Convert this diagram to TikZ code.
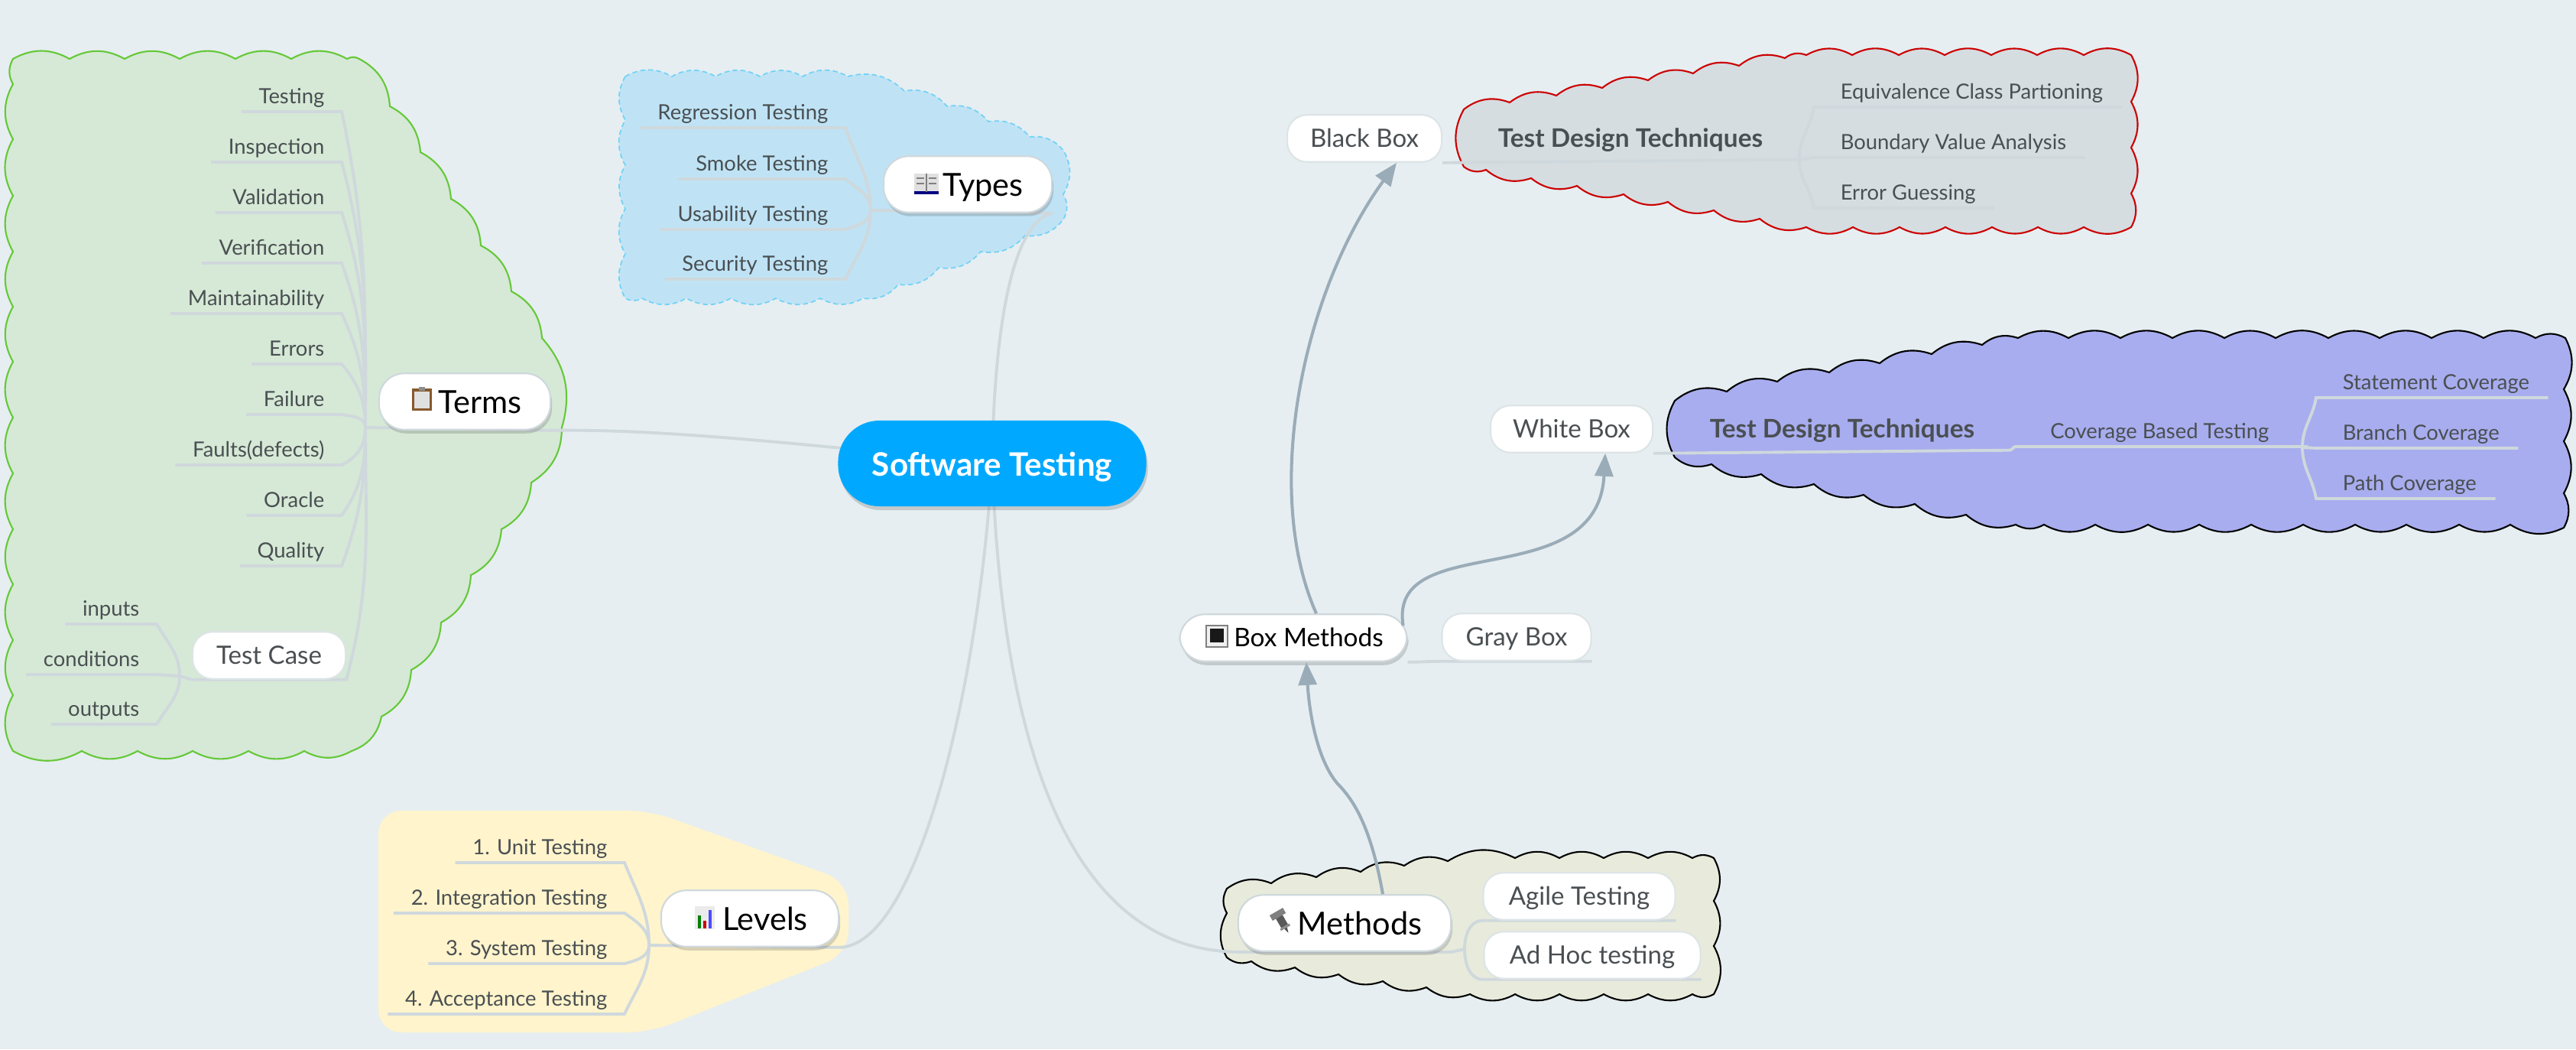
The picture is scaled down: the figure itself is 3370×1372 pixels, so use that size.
\documentclass[tikz,border=0pt]{standalone}
\usepackage{fontspec}
\setmainfont{Lato}
\usetikzlibrary{arrows.meta,backgrounds,calc,shadows}
\definecolor{bgcol}{HTML}{E6EEF1}
\definecolor{rootcol}{HTML}{00A9FF}
\definecolor{wirecol}{HTML}{CFD8DC}
\definecolor{linkcol}{HTML}{9AACB8}
\definecolor{leafcol}{HTML}{4A4F52}
\definecolor{termscol}{HTML}{D5E9D6}
\definecolor{termsedge}{HTML}{66C838}
\definecolor{typescol}{HTML}{BFE3F5}
\definecolor{blackcol}{HTML}{D5DDE1}
\definecolor{whitecol}{HTML}{A8ADEF}
\definecolor{methodscol}{HTML}{E8EBDB}
\definecolor{levelscol}{HTML}{FFF4CC}
\tikzset{
    x=0.01cm, y=-0.01cm,
    bump/.style={bend left=29},
    shade/.style={drop shadow={shadow xshift=0.02cm, shadow yshift=-0.05cm, opacity=.22, fill=black!70}},
    rootnode/.style={fill=rootcol, text=white, rounded corners=0.54cm, minimum width=4.03cm, minimum height=1.12cm,
        text height=0.42cm, text depth=0.1cm, font=\fontsize{12}{14}\bfseries\selectfont, shade},
    mainnode/.style={fill=white, draw=wirecol, line width=0.6pt, rounded corners=0.33cm, minimum height=0.71cm,
        text height=0.4cm, text depth=0.1cm, font=\fontsize{11.8}{14}\selectfont, shade, execute at begin node=\hspace*{0.4cm}},
    boxnode/.style={fill=white, draw=wirecol!70, line width=0.6pt, rounded corners=0.26cm, minimum height=0.56cm,
        text height=0.3cm, text depth=0.08cm, text=leafcol, font=\fontsize{9.4}{12}\selectfont},
    leaf/.style={inner xsep=0.24cm, inner ysep=0pt, text height=0.24cm, text depth=0.1cm, text=leafcol,
        font=\fontsize{7.8}{10}\selectfont},
    lleaf/.style={leaf, inner xsep=0.22cm, anchor=south east},
    rleaf/.style={leaf, anchor=south west, execute at begin node=\hspace*{0.1cm}},
    design/.style={inner sep=0pt, minimum height=0.5cm, text height=0.28cm, text depth=0.1cm, text=leafcol,
        font=\fontsize{9.5}{12}\bfseries\selectfont},
    wire/.style={draw=wirecol, line width=1.1pt},
    link/.style={draw=linkcol, line width=1.15pt, -{Triangle[length=0.3cm,width=0.24cm]}},
    pics/clipicon/.style={code={
        \fill[brown!70!black] (-13,-15) rectangle (13,14);
        \fill[black!12] (-10,-11) rectangle (10,11);
        \fill[black!45] (-4,-17) rectangle (4,-12);}},
    pics/bookicon/.style={code={
        \fill[black!12] (-16,-13) rectangle (16,11);
        \fill[blue!50!black] (-16,10) rectangle (16,14);
        \draw[black!50, line width=0.4pt] (0,-13) -- (0,11) (-13,-7) -- (-3,-7) (3,-7) -- (13,-7) (-13,0) -- (-3,0) (3,0) -- (13,0);}},
    pics/charticon/.style={code={
        \fill[black!8] (-13,-15) rectangle (13,15);
        \fill[green!50!black] (-9,-3) rectangle (-5,14);
        \fill[red!80!black] (-2,4) rectangle (2,14);
        \fill[blue!70] (5,-10) rectangle (9,14);}},
    pics/boxicon/.style={code={
        \draw[black!50, fill=black!6, line width=0.5pt] (-14,-14) rectangle (14,14);
        \fill[black!90] (-9,-10) rectangle (9,8);}},
    pics/screwicon/.style={code={
        \fill[black!50, rotate=30] (-10,-15) rectangle (10,-7);
        \fill[black!65, rotate=30] (-5,-7) rectangle (5,7);
        \fill[black!45, rotate=30] (-7,7) rectangle (7,10);
        \fill[black!70, rotate=30] (-2,10) -- (2,10) -- (0,17) -- cycle;}}
}

\begin{document}
\begin{tikzpicture}
    \useasboundingbox (0,0) rectangle (3370,1372);
    \begin{scope}[on background layer]
        \fill[bgcol] (0,0) rectangle (3370,1372);
        \filldraw[fill=termscol, draw=termsedge, line width=0.6pt] (17,77)
            foreach \x/\y in {91/77,163/77,235/77,308/77,381/77,454/77,470/77,510/139,550/199,590/260,629/321,669/381,709/442,735/559,
            695/631,656/692,616/752,577/814,538/876,499/937,460/982,398/982,325/982,252/982,180/982,107/982,17/982,
            17/909,17/837,17/764,17/692,17/619,17/546,17/473,17/401,17/329,17/256,17/182,17/110,17/77} {to[bump] (\x,\y)} -- cycle;
        \filldraw[fill=typescol, draw=cyan!55, line width=0.5pt, dash pattern=on 1.8pt off 1.2pt] (818,100)
            foreach \x/\y in {879/100,936/100,994/100,1050/100,1109/100,1183/119,1239/139,1293/159,1347/179,1392/198,1391/254,1391/287,
            1341/308,1283/329,1228/350,1175/372,1129/390,1073/390,1015/390,956/390,898/390,840/390,818/390,
            818/332,818/273,818/216,818/157,818/100} {to[bump] (\x,\y)} -- cycle;
        \filldraw[fill=blackcol, draw=red!80!black, line width=0.6pt] (1915,143)
            foreach \x/\y in {1975/134,2036/125,2096/115,2156/105,2215/96,2275/86,2335/76,2363/72,2423/72,2484/72,2544/72,2605/72,2665/72,2726/72,2788/72,
            2788/133,2788/193,2788/253,2788/297,2726/297,2666/297,2606/297,2545/297,2485/297,2424/297,2363/297,
            2302/286,2242/275,2182/264,2124/254,2063/243,2003/233,1944/222,1915/218,1915/143} {to[bump] (\x,\y)} -- cycle;
        \filldraw[fill=whitecol, draw=black, line width=0.6pt] (2191,524)
            foreach \x/\y in {2259/512,2325/499,2393/487,2459/475,2527/463,2593/451,2640/442,2706/442,2774/442,2842/442,2910/442,2977/442,3046/442,3113/442,3181/442,3249/442,3317/442,3356/442,
            3354/509,3354/577,3354/645,3354/690,3284/686,3217/686,3148/686,3081/686,3013/686,2945/686,2877/686,2810/686,2741/686,2674/686,2637/686,
            2572/673,2505/659,2438/647,2373/633,2304/620,2239/607,2191/598,2191/524} {to[bump] (\x,\y)} -- cycle;
        \filldraw[fill=methodscol, draw=black, line width=0.6pt] (1605,1162)
            foreach \x/\y in {1663/1155,1722/1147,1780/1140,1837/1132,1894/1126,1982/1122,2040/1122,2098/1122,2156/1122,2214/1122,2242/1122,
            2242/1178,2242/1237,2242/1300,2214/1300,2156/1300,2098/1300,2040/1300,1982/1300,1923/1300,1866/1291,1809/1283,1751/1274,1694/1265,1637/1257,1605/1252,
            1605/1194,1605/1162} {to[bump] (\x,\y)} -- cycle;
        \fill[levelscol, rounded corners=0.3cm] (495,1060) -- (850,1060) -- (1110,1153) -- (1110,1247) -- (850,1350) -- (495,1350) -- cycle;
    \end{scope}

    \path node[rootnode] (root) at (1298,606) {Software Testing}
        node[mainnode, minimum width=2.24cm] (terms) at (608,525) {Terms}
        node[mainnode, minimum width=2.2cm] (types) at (1266,241) {Types}
        node[mainnode, minimum width=2.32cm] (levels) at (981,1201) {Levels}
        node[mainnode, minimum width=2.78cm] (methods) at (1759,1207) {Methods}
        node[mainnode, minimum width=2.97cm, minimum height=0.58cm, text height=0.3cm, text depth=0.08cm, font=\fontsize{9.5}{12}\selectfont] (boxm) at (1692,834) {Box Methods}
        node[boxnode, minimum width=2cm] (testcase) at (352,857) {Test Case}
        node[boxnode, minimum width=1.95cm] (graybox) at (1984,833) {Gray Box}
        node[boxnode, minimum width=2.02cm] (blackbox) at (1785,181) {Black Box}
        node[boxnode, minimum width=2.12cm] (whitebox) at (2056,561) {White Box}
        node[boxnode, minimum width=2.51cm] (agile) at (2066,1172) {Agile Testing}
        node[boxnode, minimum width=2.83cm] (adhoc) at (2083,1249) {Ad Hoc testing}
        node[design, minimum width=4.4cm] (designb) at (2133,183) {Test Design Techniques}
        node[design, minimum width=4.36cm] (designw) at (2410,563) {Test Design Techniques};

    \path node[lleaf] (testing) at (447,146) {Testing}
        node[lleaf] (inspection) at (447,212) {Inspection}
        node[lleaf] (validation) at (447,278) {Validation}
        node[lleaf] (verification) at (447,344) {Verification}
        node[lleaf] (maintain) at (447,410) {Maintainability}
        node[lleaf] (errors) at (447,476) {Errors}
        node[lleaf] (failure) at (447,542) {Failure}
        node[lleaf] (faults) at (447,608) {Faults(defects)}
        node[lleaf] (oracle) at (447,674) {Oracle}
        node[lleaf] (quality) at (447,740) {Quality}
        node[lleaf] (inputs) at (205,816) {inputs}
        node[lleaf] (conditions) at (205,882) {conditions}
        node[lleaf] (outputs) at (205,947) {outputs}
        node[lleaf] (regression) at (1106,167) {Regression Testing}
        node[lleaf] (smoke) at (1106,234) {Smoke Testing}
        node[lleaf] (usability) at (1106,300) {Usability Testing}
        node[lleaf] (security) at (1106,365) {Security Testing}
        node[lleaf] (unit) at (817,1128) {1. Unit Testing}
        node[lleaf] (integration) at (817,1194) {2. Integration Testing}
        node[lleaf] (system) at (817,1260) {3. System Testing}
        node[lleaf] (acceptance) at (817,1326) {4. Acceptance Testing}
        node[rleaf] (equivalence) at (2373,140) {Equivalence Class Partioning}
        node[rleaf] (boundary) at (2373,206) {Boundary Value Analysis}
        node[rleaf] (guessing) at (2373,272) {Error Guessing}
        node[rleaf] (statement) at (3030,520) {Statement Coverage}
        node[rleaf] (branch) at (3030,586) {Branch Coverage}
        node[rleaf] (pathcov) at (3030,652) {Path Coverage}
        node[leaf, anchor=south west, minimum width=3.75cm] (coverage) at (2637,584) {Coverage Based Testing};

    \coordinate (termsj) at (478,559);
    \coordinate (casej) at (235,884);
    \coordinate (typesj) at (1139,275);
    \coordinate (levelsj) at (849,1236);
    \coordinate (methodsj) at (1916,1241);
    \coordinate (coverj) at (3012,585);

    \begin{scope}[on background layer]
        \draw[wire] (root.center) .. controls (1000,575) and (850,561) .. (terms.south east);
        \draw[wire] (root.center) .. controls (1300,450) and (1320,290) .. (types.south east);
        \draw[wire] (root.center) .. controls (1280,900) and (1200,1237) .. (levels.south east);
        \draw[wire] (root.center) .. controls (1315,1100) and (1460,1243) .. (methods.south west);
        \draw[wire] (termsj) -- (terms.south east);
        \draw[wire] (typesj) -- (types.south east);
        \draw[wire] (levelsj) -- (levels.south east);
        \draw[wire] (methods.south west) -- (methods.south east) -- (methodsj);
        \foreach \leafname/\outa in {testing/-78,inspection/-75,validation/-72,verification/-70,maintain/-65,errors/-50,failure/-10}
            \draw[wire] (\leafname.south west) -- (\leafname.south east) to[out=\outa,in=90] (termsj);
        \foreach \leafname/\outa in {faults/25,oracle/55,quality/70}
            \draw[wire] (\leafname.south west) -- (\leafname.south east) to[out=\outa,in=-90] (termsj);
        \draw[wire] (testcase.south west) -- (testcase.south east) to[out=75,in=-90] (termsj);
        \draw[wire] (casej) -- (testcase.south west);
        \draw[wire] (inputs.south west) -- (inputs.south east) to[out=-60,in=90] (casej);
        \draw[wire] (conditions.south west) -- (conditions.south east) -- (casej);
        \draw[wire] (outputs.south west) -- (outputs.south east) to[out=60,in=-90] (casej);
        \foreach \leafname/\outa in {regression/-72,smoke/-40}
            \draw[wire] (\leafname.south west) -- (\leafname.south east) to[out=\outa,in=90] (typesj);
        \foreach \leafname/\outa in {usability/20,security/65}
            \draw[wire] (\leafname.south west) -- (\leafname.south east) to[out=\outa,in=-90] (typesj);
        \foreach \leafname/\outa in {unit/-68,integration/-35}
            \draw[wire] (\leafname.south west) -- (\leafname.south east) to[out=\outa,in=90] (levelsj);
        \foreach \leafname/\outa in {system/15,acceptance/65}
            \draw[wire] (\leafname.south west) -- (\leafname.south east) to[out=\outa,in=-90] (levelsj);
        \draw[wire] (boxm.south east) to[out=0,in=180] (graybox.south west) -- (graybox.south east);
        \draw[wire] (blackbox.south east) -- (designb.south east);
        \draw[wire] (equivalence.south east) -- (equivalence.south west) to[out=-100,in=90] (designb.south east);
        \draw[wire] (boundary.south east) -- (boundary.south west) -- (designb.south east);
        \draw[wire] (guessing.south east) -- (guessing.south west) to[out=100,in=-90] (designb.south east);
        \draw[wire] (whitebox.south east) -- (designw.south east) to[out=0,in=180] (coverage.south west) -- (coverage.south east) -- (coverj);
        \draw[wire] (statement.south east) -- (statement.south west) to[out=-100,in=90] (coverj);
        \draw[wire] (branch.south east) -- (branch.south west) -- (coverj);
        \draw[wire] (pathcov.south east) -- (pathcov.south west) to[out=100,in=-90] (coverj);
        \draw[wire] (agile.south east) -- (agile.south west) to[out=180,in=90] (methodsj);
        \draw[wire] (adhoc.south east) -- (adhoc.south west) to[out=180,in=-90] (methodsj);
    \end{scope}

    \draw[link] ($(methods.north)+(50,0)$) .. controls (1795,1090) and (1775,1050) .. (1750,1025) .. controls (1720,990) and (1712,920) .. ($(boxm.south)+(17,0)$);
    \draw[link] ($(boxm.north)+(30,0)$) .. controls (1650,640) and (1705,380) .. ($(blackbox.south)+(42,0)$);
    \draw[link] ($(boxm.north east)+(-6,16)$) .. controls (1815,690) and (2090,780) .. ($(whitebox.south)+(44,0)$);

    \pic at ($(terms)+(-56,-2)$) {clipicon};
    \pic at ($(types)+(-54,-1)$) {bookicon};
    \pic at ($(levels)+(-59,-1)$) {charticon};
    \pic at ($(boxm)+(-100,-2)$) {boxicon};
    \pic at ($(methods)+(-82,-2)$) {screwicon};
\end{tikzpicture}
\end{document}
